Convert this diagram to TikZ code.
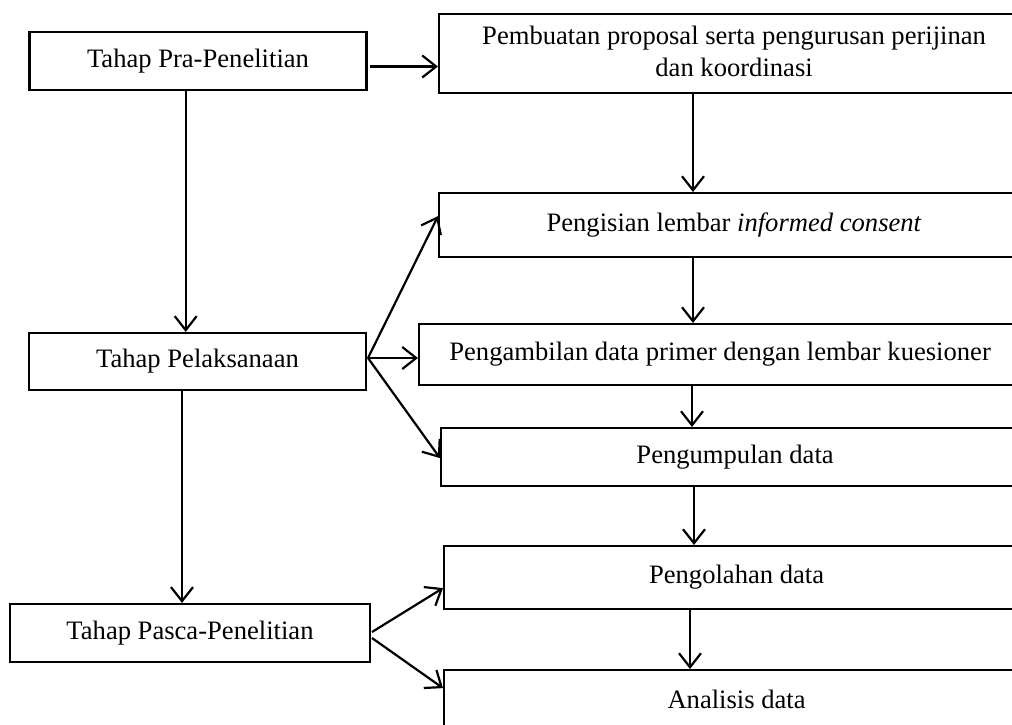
\documentclass[tikz,border=0pt]{standalone}
\usepackage{fontspec}
\setmainfont{Liberation Serif}
\usetikzlibrary{arrows.meta}
\begin{document}
\begin{tikzpicture}[x=1pt,y=-1pt,
  box/.style={draw,line width=2.2pt,rectangle,inner sep=0pt,align=center,
    font=\fontsize{26.6}{32}\selectfont},
  arr/.style={line width=2.2pt,-{Straight Barb[length=14pt,width=22pt,line width=2.2pt]}}]
\clip (0,0) rectangle (1012,724);
\fill[white] (0,0) rectangle (1012,724);
% left column
\node[box,minimum width=337pt,minimum height=58pt] (A) at (198,61) {Tahap Pra-Penelitian};
\node[box,minimum width=337pt,minimum height=57pt] (F) at (197.5,361.5) {Tahap Pelaksanaan};
\node[box,minimum width=360pt,minimum height=58pt] (H) at (190,633) {Tahap Pasca-Penelitian};
% right column (right edges run past the picture)
\node[box,anchor=north west,minimum width=590pt,minimum height=79pt] (B) at (438,13)
  {\raisebox{-3pt}{\begin{tabular}{@{}c@{}}Pembuatan proposal serta pengurusan perijinan\\ dan koordinasi\end{tabular}}};
\node[box,anchor=north west,minimum width=590pt,minimum height=64pt] (C) at (438,192)
  {\raisebox{6pt}{Pengisian lembar \textit{informed consent}}};
\node[box,anchor=north west,minimum width=602pt,minimum height=61pt] (D) at (418,323)
  {\raisebox{2pt}{Pengambilan data primer dengan lembar kuesioner}};
\node[box,anchor=north west,minimum width=588pt,minimum height=58pt] (E) at (440,427)
  {\raisebox{3pt}{Pengumpulan data}};
\node[box,anchor=north west,minimum width=585pt,minimum height=63pt] (G) at (443,545)
  {\raisebox{5pt}{Pengolahan data}};
\node[box,anchor=north west,minimum width=585pt,minimum height=58pt] (I) at (443,669)
  {Analisis data};
% helper coordinates
\coordinate (xA) at (185.7,0);
\coordinate (xF) at (182,0);
\coordinate (xB) at (693,0);
\coordinate (xC) at (693,0);
\coordinate (xD) at (692,0);
\coordinate (xE) at (694,0);
\coordinate (xG) at (690,0);
% connectors
\draw[arr] ([xshift=2pt,yshift=-5.5pt]A.east) -- ([yshift=-5.5pt]A.east -| B.west);
\draw[arr] (A.south -| xA) -- (F.north -| xA);
\draw[arr] (F.south -| xF) -- (H.north -| xF);
\draw[arr] (B.south -| xB) -- (C.north -| xB);
\draw[arr] (C.south -| xC) -- (D.north -| xC);
\draw[arr] (D.south -| xD) -- (E.north -| xD);
\draw[arr] (E.south -| xE) -- (G.north -| xE);
\draw[arr] (G.south -| xG) -- (I.north -| xG);
\coordinate (fo) at (368,358);
\draw[arr] (fo) -- ([yshift=9pt]C.west);
\draw[arr] (fo) -- (D.west |- fo);
\draw[arr] (fo) -- ([yshift=-1pt]E.west);
\coordinate (ho1) at (372,632);
\coordinate (ho2) at (372,638);
\draw[arr] (ho1) -- ([yshift=-10.5pt]G.west);
\draw[arr] (ho2) -- ([yshift=11pt]I.west);
\end{tikzpicture}
\end{document}
